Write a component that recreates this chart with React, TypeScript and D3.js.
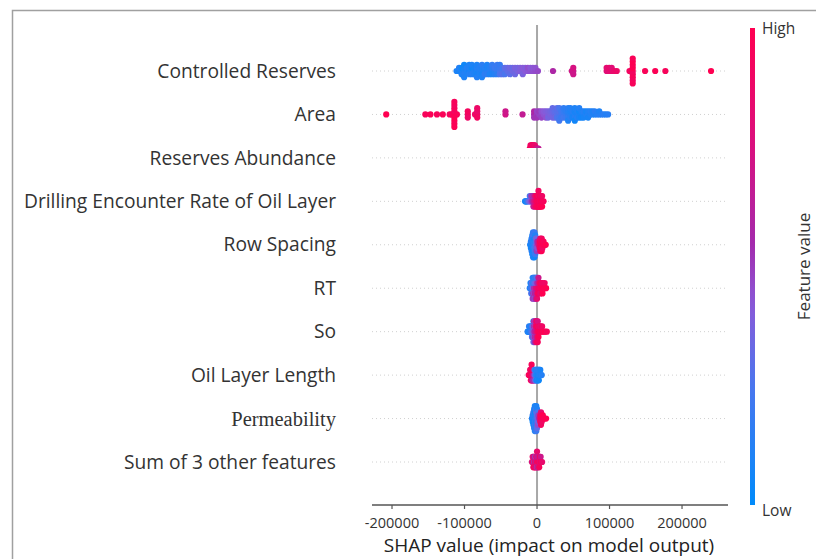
import React from 'react';
import * as d3 from 'd3';

const features = [
  'Controlled Reserves',
  'Area',
  'Reserves Abundance',
  'Drilling Encounter Rate of Oil Layer',
  'Row Spacing',
  'RT',
  'So',
  'Oil Layer Length',
  'Permeability',
  'Sum of 3 other features',
];

const xTicks = [-200000, -100000, 0, 100000, 200000];

// Each entry: [SHAP value, normalized feature values (0 = low, 1 = high) of the samples at that SHAP value]
const controlledReserves: [number, number[]][] = [
  [-111000, [0.1]], [-107500, [0.08, 0.12]], [-104000, [0.1, 0.05, 0.1]], [-100500, [0.1, 0.08, 0.12, 0.05, 0.1]],
  [-97000, [0.1, 0.12]], [-93500, [0.08, 0.1, 0.12, 0.1]], [-89900, [0.1, 0.05, 0.12, 0.1]], [-86400, [0.12, 0.08, 0.1]],
  [-82900, [0.1, 0.12, 0.08, 0.1, 0.12]], [-79400, [0.1, 0.12, 0.1]], [-75900, [0.12, 0.1, 0.08, 0.15, 0.1]],
  [-72400, [0.1, 0.12, 0.15]], [-68900, [0.12, 0.1, 0.15, 0.1]], [-65400, [0.15, 0.12, 0.1]],
  [-61900, [0.12, 0.15, 0.1, 0.18]], [-58400, [0.15, 0.2, 0.12]], [-54800, [0.2, 0.18, 0.15, 0.2]],
  [-51300, [0.22, 0.2, 0.25, 0.18]], [-47800, [0.25, 0.22, 0.28]], [-44300, [0.28, 0.3, 0.25]],
  [-40800, [0.3, 0.32]], [-37300, [0.32, 0.35, 0.3]], [-33800, [0.35, 0.33]], [-30300, [0.36, 0.38, 0.34]],
  [-26800, [0.38, 0.36]], [-23300, [0.4, 0.38]], [-19700, [0.4, 0.42, 0.38]], [-16200, [0.42, 0.4]],
  [-12700, [0.43, 0.45]], [-9200, [0.44, 0.42]], [-5700, [0.45, 0.43]], [-2200, [0.46, 0.44]], [1300, [0.47]],
  [22000, [0.58]],
  [48000, [0.72]], [50000, [0.7, 0.74, 0.7]],
  [96000, [0.8, 0.82]], [99500, [0.82, 0.85]], [103000, [0.84, 0.8]], [106500, [0.86]], [110000, [0.88]],
  [127500, [0.92]], [132000, [0.95, 1, 0.92, 0.98, 0.95, 1, 0.93, 0.97, 0.95]],
  [149000, [0.96]], [163000, [0.98]], [177000, [0.95]], [240000, [1]],
];

const area: [number, number[]][] = [
  [-208000, [1]], [-154000, [0.95]], [-147000, [0.98]], [-138000, [0.95]], [-130000, [0.97]],
  [-120500, [0.93]], [-117500, [0.95]], [-114000, [1, 0.92, 0.98, 0.95, 1, 0.93, 0.97, 0.95, 0.99]], [-110500, [0.97]],
  [-95500, [0.9, 0.93, 0.88]],
  [-85500, [0.88]], [-82500, [0.9, 0.86, 0.92, 0.88]],
  [-43500, [0.72, 0.7]],
  [-20000, [0.66]],
  [-4000, [0.55, 0.58, 0.52]],
  [0, [0.5, 0.48, 0.52]], [3100, [0.48, 0.5]], [6200, [0.46, 0.44, 0.48]], [9300, [0.44, 0.42]],
  [12300, [0.42, 0.4, 0.44]], [15400, [0.4, 0.38, 0.36]], [18400, [0.38, 0.36]], [21500, [0.35, 0.33, 0.36, 0.32]],
  [24600, [0.32, 0.3, 0.34]], [27600, [0.3, 0.28, 0.26, 0.3]], [30700, [0.26, 0.28, 0.24, 0.25, 0.22]],
  [33700, [0.24, 0.22, 0.2]], [36800, [0.2, 0.18, 0.22, 0.16]], [39900, [0.18, 0.15, 0.2]],
  [42900, [0.15, 0.12, 0.16, 0.14, 0.1]], [46000, [0.12, 0.1, 0.14, 0.12]], [49000, [0.1, 0.12, 0.08]],
  [52100, [0.1, 0.08, 0.12, 0.1, 0.06]], [55200, [0.08, 0.1, 0.12]], [58200, [0.1, 0.06, 0.08, 0.12]],
  [61300, [0.08, 0.1, 0.06]], [64300, [0.1, 0.12, 0.08]], [67400, [0.1, 0.08]], [70500, [0.12, 0.1, 0.08]],
  [73500, [0.1, 0.12]], [76600, [0.12, 0.1]], [79600, [0.1, 0.14]], [82700, [0.12]], [85800, [0.14, 0.1]],
  [88800, [0.12]], [91900, [0.15]], [94900, [0.12]], [98000, [0.14]],
];

const reservesAbundance: [number, number[]][] = [
  [-12000, [0.95]], [-11000, [1, 0.95, 0.9]], [-10000, [0.95, 1, 0.92, 0.98, 0.9, 0.95, 1]],
  [-9000, [1, 0.95, 0.9, 0.98, 0.92, 0.95, 1, 0.9]], [-8000, [0.95, 0.9, 1, 0.92, 0.98, 0.95, 1, 0.9, 0.95]],
  [-7000, [0.98, 0.92, 1, 0.95, 0.9, 0.95, 1, 0.92]], [-6000, [0.95, 1, 0.9, 0.92, 0.98, 0.95, 1, 0.9, 0.95]],
  [-5000, [0.9, 0.95, 1, 0.92, 0.98, 0.9, 0.95, 0.88]], [-4000, [0.95, 0.9, 1, 0.85, 0.92, 0.88, 0.95, 0.9, 1]],
  [-3000, [0.9, 0.85, 0.95, 0.88, 0.92, 0.85, 0.9, 0.86]], [-2000, [0.85, 0.9, 0.8, 0.88, 0.82, 0.9, 0.85]],
  [-1000, [0.8, 0.85, 0.75, 0.82, 0.78, 0.8, 0.76]], [0, [0.75, 0.7, 0.8, 0.72, 0.78, 0.74, 0.7]],
  [1000, [0.7, 0.75, 0.65, 0.72, 0.68, 0.7, 0.66]], [2000, [0.68, 0.72, 0.65, 0.7, 0.6, 0.66, 0.64]],
  [3000, [0.65, 0.7, 0.62, 0.6, 0.64]], [4000, [0.6, 0.65, 0.58, 0.62, 0.6]], [5000, [0.6, 0.58, 0.62]],
];

const drillingRate: [number, number[]][] = [
  [-16500, [0.08]], [-16000, [0.1]], [-15000, [0.05]], [-14000, [0.12]], [-13000, [0.15]],
  [-11500, [0.3]], [-10000, [0.35, 0.25]], [-9000, [0.4]], [-8000, [0.45, 0.5]], [-7000, [0.5]],
  [-6000, [0.55, 0.6]], [-5000, [0.6, 0.5, 0.65]], [-4000, [0.7, 0.6]], [-3000, [0.75, 0.7, 0.8]],
  [-2000, [0.8, 0.85]], [-1000, [0.9, 0.85, 0.95]], [0, [0.95, 1, 0.9]], [1000, [0.9, 0.95, 1]],
  [2000, [1, 0.9, 0.95, 0.92]], [3000, [0.95, 0.85, 1]], [4000, [0.9, 1, 0.92]], [5000, [0.95, 0.9, 1]],
  [6000, [1, 0.92]], [7000, [0.95, 0.9, 1]], [8000, [0.9]], [9000, [0.95]],
];

const rowSpacing: [number, number[]][] = [
  [-9500, [0.1]], [-8500, [0.1, 0.15, 0.05]], [-7500, [0.05, 0.1, 0.12, 0.08, 0.15]],
  [-6500, [0.1, 0.15, 0.05, 0.2, 0.1, 0.12, 0.08]], [-5500, [0.12, 0.08, 0.1, 0.15, 0.05, 0.2, 0.1, 0.18, 0.12]],
  [-4500, [0.1, 0.2, 0.15, 0.05, 0.12, 0.25, 0.1]], [-3500, [0.15, 0.1, 0.2, 0.08, 0.12, 0.18, 0.1, 0.2, 0.05]],
  [-2500, [0.2, 0.15, 0.25, 0.1, 0.3, 0.12, 0.2]], [-1500, [0.3, 0.25, 0.2, 0.35, 0.15]],
  [-500, [0.4, 0.3, 0.45, 0.35, 0.5]], [500, [0.5, 0.6, 0.45]], [2000, [0.7, 0.65]],
  [3500, [0.85, 0.9, 0.8]], [4500, [0.9, 1, 0.95, 0.85, 0.92]], [5500, [0.95, 0.9, 1]],
  [6500, [1, 0.95, 0.9, 0.92, 0.98]], [7500, [0.95, 1, 0.9]], [9000, [1, 0.95]], [10500, [0.95]], [12000, [1]],
];

const rt: [number, number[]][] = [
  [-10000, [0.1]], [-9000, [0.15, 0.1]], [-8000, [0.2, 0.1, 0.3]], [-7000, [0.15, 0.35, 0.1]],
  [-6000, [0.3, 0.2, 0.45, 0.1, 0.5]], [-5000, [0.4, 0.15, 0.55, 0.2]], [-4000, [0.6, 0.25, 0.45, 0.1, 0.5]],
  [-3000, [0.5, 0.3, 0.65, 0.2, 0.4]], [-2000, [0.7, 0.35, 0.55, 0.15, 0.6]], [-1000, [0.75, 0.4, 0.6, 0.2]],
  [0, [0.8, 0.5, 0.7, 0.3, 0.85]], [1000, [0.85, 0.55, 0.9]], [2000, [0.9, 0.6, 0.95, 0.7]],
  [3000, [0.95, 0.8]], [4500, [0.9, 1, 0.85]], [6000, [1, 0.95]], [7500, [0.95, 0.9, 1]],
  [9000, [1]], [10500, [0.95, 0.9]], [12500, [1]],
];

const so: [number, number[]][] = [
  [-13000, [0.1]], [-12000, [0.12]], [-11000, [0.1, 0.15]], [-10000, [0.08]], [-9000, [0.15, 0.1]],
  [-8000, [0.2]], [-7000, [0.25, 0.15, 0.3]], [-6000, [0.3, 0.4, 0.2]], [-5000, [0.45, 0.3, 0.5, 0.2, 0.35]],
  [-4000, [0.5, 0.6, 0.35, 0.65]], [-3000, [0.6, 0.45, 0.7, 0.4, 0.55]], [-2000, [0.65, 0.75, 0.5, 0.8]],
  [-1000, [0.7, 0.85, 0.6, 0.75, 0.9]], [0, [0.8, 0.9, 0.7, 0.95]], [1000, [0.9, 1, 0.85, 0.75, 0.95]],
  [2000, [0.95, 0.85, 1]], [3500, [1, 0.9]], [5000, [0.95, 0.85]], [7000, [1, 0.9]],
  [9000, [0.95]], [11000, [1]], [13500, [0.95]],
];

const oilLayerLength: [number, number[]][] = [
  [-11500, [0.9]], [-10500, [0.95]], [-9500, [1, 0.9]], [-8500, [0.95, 0.85, 1]], [-7500, [0.9, 1, 0.8, 0.95]],
  [-6500, [0.85, 0.95, 0.7]], [-5500, [0.75, 0.9, 0.6]], [-4500, [0.6, 0.8, 0.5]], [-3500, [0.45, 0.3, 0.55]],
  [-2500, [0.3, 0.2, 0.4]], [-1500, [0.2, 0.1, 0.25]], [-500, [0.1, 0.15, 0.05]], [500, [0.1, 0.12, 0.08]],
  [1500, [0.08, 0.15, 0.1]], [2500, [0.1, 0.12, 0.05]], [3500, [0.1, 0.15]], [4500, [0.12, 0.08]],
  [5500, [0.1]], [6500, [0.12]],
];

const permeability: [number, number[]][] = [
  [-7000, [0.1]], [-6000, [0.1, 0.15, 0.05]], [-5000, [0.12, 0.08, 0.1, 0.2, 0.05]],
  [-4000, [0.1, 0.15, 0.05, 0.2, 0.1, 0.12, 0.08]], [-3000, [0.12, 0.1, 0.18, 0.05, 0.15, 0.1, 0.2, 0.08, 0.12]],
  [-2000, [0.15, 0.1, 0.2, 0.05, 0.25, 0.12, 0.1]], [-1000, [0.2, 0.15, 0.1, 0.3, 0.12, 0.25, 0.18, 0.1, 0.2]],
  [0, [0.25, 0.3, 0.15, 0.35, 0.2, 0.1, 0.3]], [1000, [0.35, 0.3, 0.4, 0.25, 0.45]], [2000, [0.45, 0.5, 0.35]],
  [3000, [0.55]], [4500, [0.85, 0.9, 0.95]], [5500, [0.95, 1, 0.9, 0.85, 0.92]], [6500, [1, 0.95, 0.9]],
  [8000, [0.95, 1]], [10000, [0.95]], [12500, [1]],
];

const sumOfOthers: [number, number[]][] = [
  [-7000, [0.8]], [-6000, [0.7, 0.9]], [-5000, [0.95, 0.6, 0.85]], [-4000, [0.5, 0.9, 1]],
  [-3000, [0.8, 0.55, 0.95]], [-2000, [0.9, 0.45, 0.75]], [-1000, [0.6, 1, 0.85]], [0, [0.95, 0.7, 0.5, 0.85]],
  [1000, [0.85, 0.6, 0.9]], [2000, [1, 0.75, 0.55]], [3000, [0.9, 0.65, 0.95]], [4000, [0.8, 1]],
  [5000, [0.9, 0.7]], [6000, [0.95]], [7000, [0.85]],
];

const featureData = [
  controlledReserves, area, reservesAbundance, drillingRate, rowSpacing,
  rt, so, oilLayerLength, permeability, sumOfOthers,
];

const W = 816;
const H = 559;
const FONT = '"Open Sans", "DejaVu Sans", sans-serif';

const x = d3.scaleLinear().domain([-227600, 263400]).range([372, 728]);
const y = d3.scalePoint<string>().domain(features).range([71, 462]);
const step = (462 - 71) / (features.length - 1);

const colorStops = ['#008bfb', '#4a76ee', '#8a5ad8', '#a42aac', '#d9107f', '#ff0051'];
const colorPos = [0, 0.25, 0.42, 0.55, 0.75, 1];
const color = d3.scaleLinear<string>().domain(colorPos).range(colorStops).interpolate(d3.interpolateRgb);

// SHAP-style beeswarm offsets (bins of 1/100 of the feature's range)
function swarm(vals: number[], rowHeight: number): number[] {
  const n = vals.length;
  const mn = d3.min(vals) as number;
  const mx = d3.max(vals) as number;
  const nbins = 100;
  const quant = vals.map((v) => Math.round((nbins * (v - mn)) / (mx - mn + 1e-8)));
  const inds = d3.range(n).sort((a, b) => quant[a] - quant[b] || a - b);
  const ys = new Array(n).fill(0);
  let layer = 0;
  let last = -1;
  for (const i of inds) {
    if (quant[i] !== last) layer = 0;
    ys[i] = Math.ceil(layer / 2) * ((layer % 2) * 2 - 1);
    layer++;
    last = quant[i];
  }
  const m = d3.max(ys.map((v) => v + 1)) as number;
  return ys.map((v) => v * 0.9 * (rowHeight / m));
}

export default function App() {
  const rowHeight = 0.4 * step;
  const barTop = 28;
  const barBottom = 505;
  const gradStops = d3.range(0, 1.0001, 0.05);
  const raY = y('Reserves Abundance') as number;

  return (
    <svg width={W} height={H} style={{ position: 'absolute', left: 0, top: 0, background: '#fff' }}>
      <defs>
        <linearGradient id="cbar" x1="0" y1="1" x2="0" y2="0">
          {gradStops.map((t) => (
            <stop key={t} offset={t} stopColor={color(t)} />
          ))}
        </linearGradient>
        <clipPath id="raClip">
          <rect x={0} y={0} width={W} height={raY - 10} />
        </clipPath>
      </defs>
      <rect x={0} y={0} width={W} height={H} fill="#fff" />
      {/* frame */}
      <path d={`M12.5,${H} V10.5 H${W}`} fill="none" stroke="#a0a0a0" strokeWidth={1.5} />

      {/* row guide lines */}
      {features.map((f) => (
        <line key={f} x1={x.range()[0]} x2={x.range()[1]} y1={y(f)} y2={y(f)}
          stroke="#d0d0d0" strokeWidth={1} strokeDasharray="1 3" />
      ))}

      {/* zero line */}
      <line x1={x(0)} x2={x(0)} y1={25} y2={505} stroke="#a8a8a8" strokeWidth={2} />

      {/* dots */}
      {featureData.map((cols, fi) => {
        const pts: [number, number][] = [];
        cols.forEach(([v, fvs]) => fvs.forEach((fv) => pts.push([v, fv])));
        const offs = swarm(pts.map((p) => p[0]), rowHeight);
        const cy0 = y(features[fi]) as number;
        return (
          <g key={fi} clipPath={features[fi] === 'Reserves Abundance' ? 'url(#raClip)' : undefined}>
            {pts.map((p, i) => (
              <circle key={i} cx={x(p[0])} cy={cy0 - offs[i]} r={3.1} fill={color(p[1])} />
            ))}
          </g>
        );
      })}

      {/* feature labels */}
      {features.map((f) => (
        <text key={f} x={336} y={y(f)} dy="0.35em" textAnchor="end"
          fontSize={f === 'Permeability' ? 20.5 : 19.2}
          fontFamily={f === 'Permeability' ? '"Liberation Serif", serif' : FONT} fill="#333">
          {f}
        </text>
      ))}

      {/* x axis */}
      <line x1={x.range()[0]} x2={x.range()[1]} y1={505} y2={505} stroke="#555" strokeWidth={1.3} />
      {xTicks.map((t) => (
        <g key={t}>
          <line x1={x(t)} x2={x(t)} y1={505} y2={509} stroke="#555" strokeWidth={1.2} />
          <text x={x(t)} y={528} textAnchor="middle" fontSize={14.5} fontFamily={FONT} fill="#333">
            {t}
          </text>
        </g>
      ))}
      <text x={549} y={552} textAnchor="middle" fontSize={19} fontFamily={FONT} fill="#222">
        SHAP value (impact on model output)
      </text>

      {/* color bar */}
      <rect x={750} y={barTop} width={5} height={barBottom - barTop} fill="url(#cbar)" />
      <text x={762} y={34} fontSize={15.5} fontFamily={FONT} fill="#333">High</text>
      <text x={762} y={516} fontSize={15.5} fontFamily={FONT} fill="#333">Low</text>
      <text transform={`translate(810,${(barTop + barBottom) / 2}) rotate(-90)`} textAnchor="middle"
        fontSize={17} fontFamily={FONT} fill="#333">
        Feature value
      </text>
    </svg>
  );
}
